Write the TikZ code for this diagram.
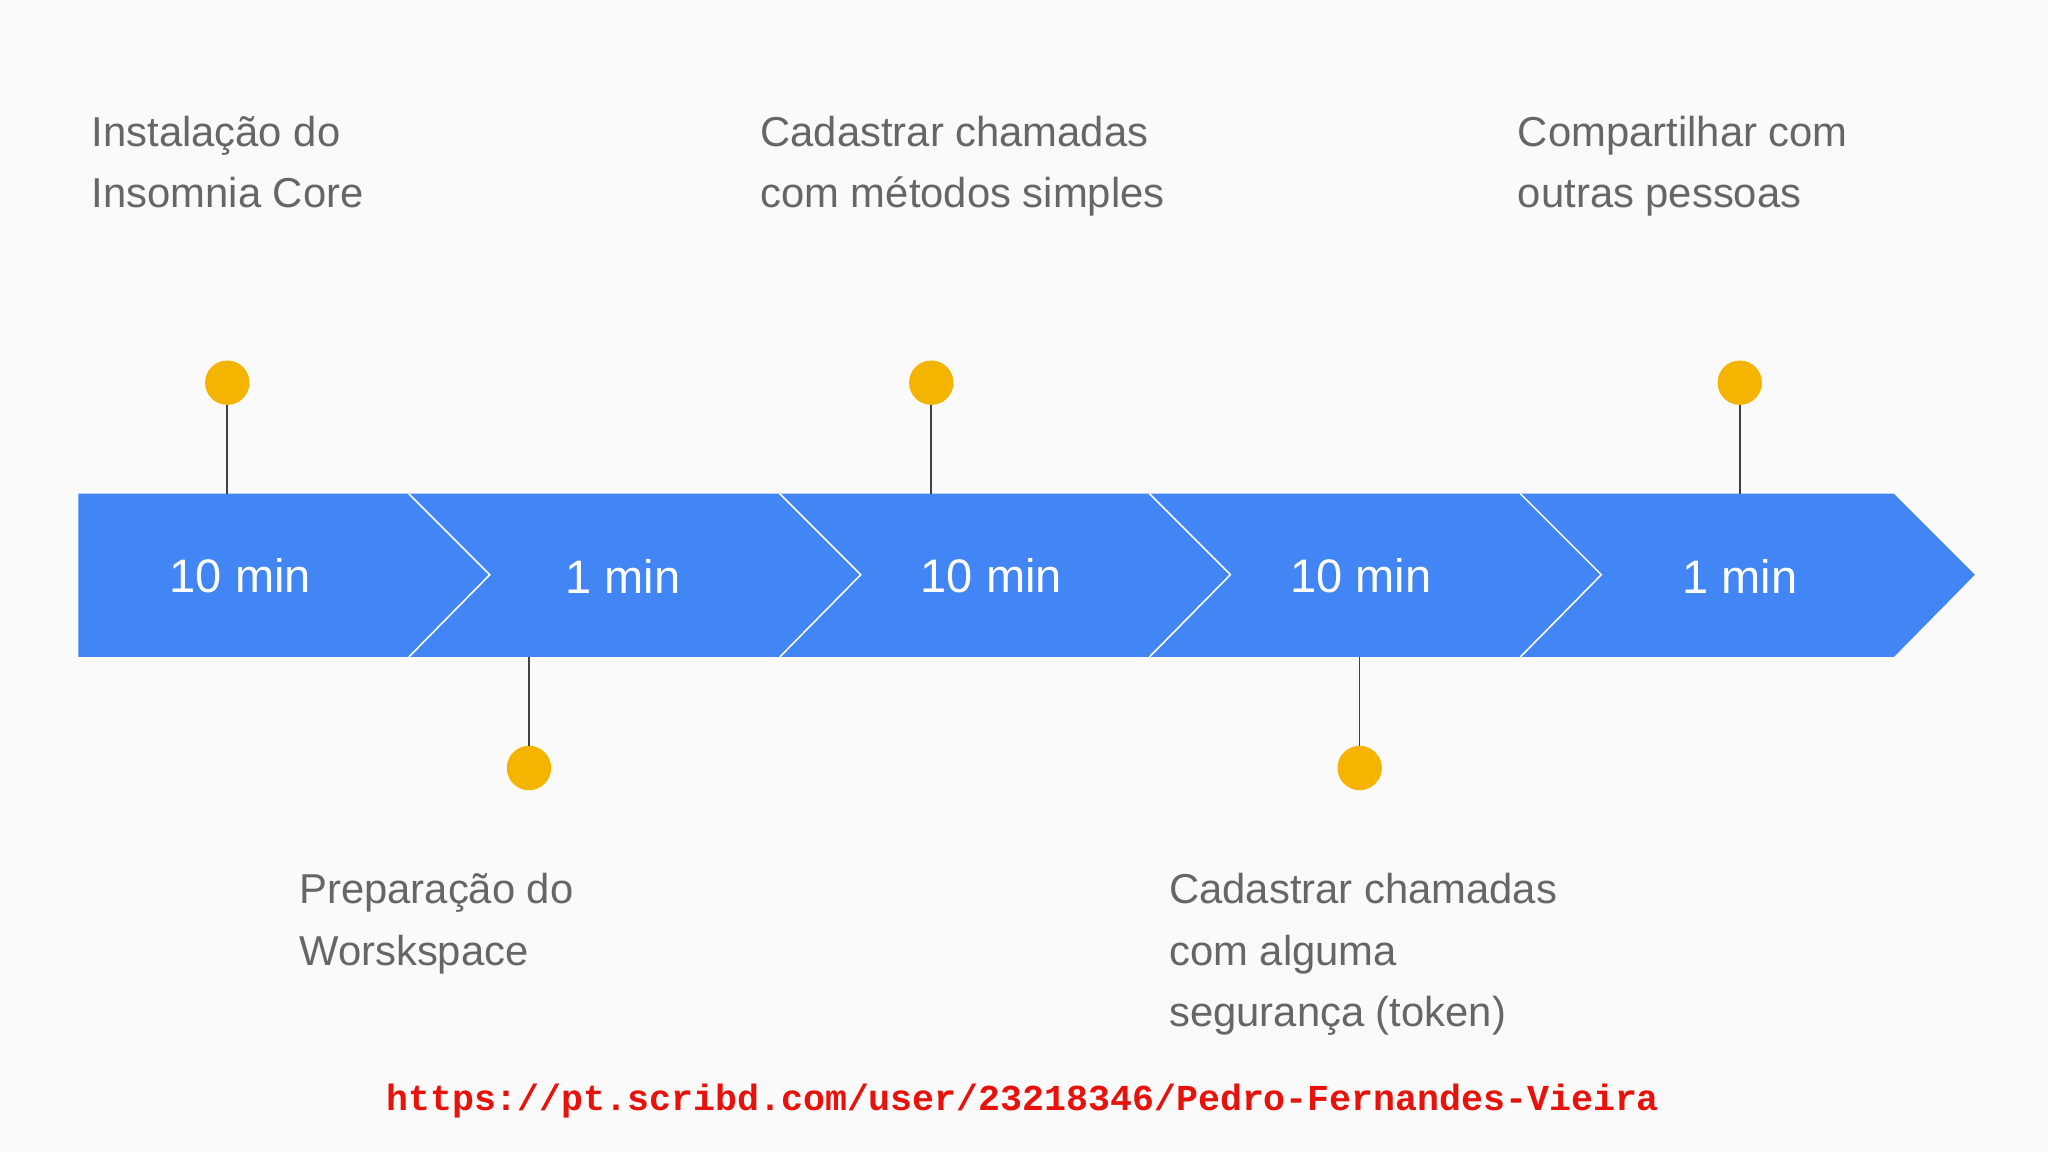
\documentclass[tikz,border=0pt]{standalone}
\usepackage{fontspec}
\setmainfont{Liberation Sans}
\newfontfamily\urlfont{Liberation Mono}[BoldFont={Liberation Mono Bold}]
\definecolor{bg}{HTML}{FAFAFA}
\definecolor{band}{HTML}{4285F4}
\definecolor{dot}{HTML}{F4B400}
\definecolor{txt}{HTML}{666666}
\definecolor{url}{HTML}{E8120C}
\tikzset{
  lbl/.style={anchor=base west,inner sep=0pt,text=txt,font=\fontsize{32}{40}\selectfont},
  seg/.style={text=white,font=\fontsize{36}{40}\selectfont,inner sep=0pt},
  dotc/.style={circle,fill=dot,minimum size=34pt,inner sep=0pt},
  stem/.style={draw=black!75,line width=1.2pt},
  sep/.style={draw=white,line width=1.2pt}
}
\begin{document}
\begin{tikzpicture}[x=1pt,y=-1pt]
\fill[bg] (0,0) rectangle (1568,882);
\useasboundingbox (0,0) rectangle (1568,882);
\fill[band] (60,378) -- (1450,378) -- (1512,440) -- (1450,503) -- (60,503) -- cycle;
\foreach \x in {313,597,880,1164}{\draw[sep] (\x,378) -- (\x+62,440) -- (\x,503);}
\node[seg] (s1) at (184,441) {10 min};
\node[seg] (s2) at (477,441) {1 min};
\node[seg] (s3) at (759,441) {10 min};
\node[seg] (s4) at (1042,441) {10 min};
\node[seg] (s5) at (1332,441) {1 min};
\coordinate (t1) at (174,378); \coordinate (t2) at (713,378); \coordinate (t3) at (1332,378);
\coordinate (b1) at (405,503); \coordinate (b2) at (1041,503);
\node[dotc] (d1) at (174,293) {}; \node[dotc] (d2) at (713,293) {}; \node[dotc] (d3) at (1332,293) {};
\node[dotc] (d4) at (405,588) {}; \node[dotc] (d5) at (1041,588) {};
\draw[stem] (d1) -- (t1); \draw[stem] (d2) -- (t2); \draw[stem] (d3) -- (t3);
\draw[stem] (d4) -- (b1); \draw[stem] (d5) -- (b2);
\node[lbl] (l1a) at (70,112) {Instalação do};
\node[lbl] (l1b) at (70,159) {Insomnia Core};
\node[lbl] (l2a) at (582,112) {Cadastrar chamadas};
\node[lbl] (l2b) at (582,159) {com métodos simples};
\node[lbl] (l3a) at (1162,112) {Compartilhar com};
\node[lbl] (l3b) at (1162,159) {outras pessoas};
\node[lbl] (l4a) at (229,692) {Preparação do};
\node[lbl] (l4b) at (229,739) {Worskspace};
\node[lbl] (l5a) at (895,692) {Cadastrar chamadas};
\node[lbl] (l5b) at (895,739) {com alguma};
\node[lbl] (l5c) at (895,786) {segurança (token)};
\node[text=url,font=\urlfont\bfseries\fontsize{28}{30}\selectfont,inner sep=0pt] (u) at (783,843) {https://pt.scribd.com/user/23218346/Pedro-Fernandes-Vieira};
\end{tikzpicture}
\end{document}
